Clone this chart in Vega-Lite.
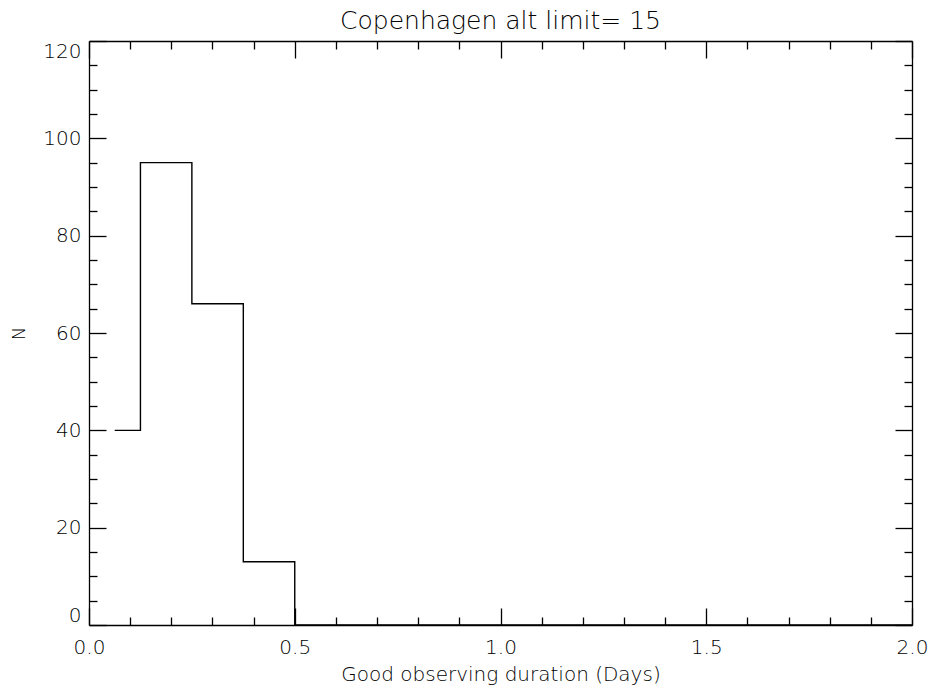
{
  "$schema": "https://vega.github.io/schema/vega-lite/v6.json",
  "autosize": {"type": "none"},
  "width": 823,
  "height": 584,
  "padding": {"left": 89, "top": 41, "right": 17, "bottom": 65},
  "background": "white",
  "title": {"text": "Copenhagen alt limit= 15", "fontSize": 25, "font": "DejaVu Sans", "fontWeight": 200, "color": "#000", "offset": 6, "anchor": "middle"},
  "config": {
    "view": {"stroke": null},
    "axis": {"domainColor": "#000", "tickColor": "#000", "labelColor": "#000", "titleColor": "#000", "labelFont": "DejaVu Sans", "titleFont": "DejaVu Sans", "labelFontWeight": 200, "titleFontWeight": 200, "labelFontSize": 20, "titleFontSize": 20, "grid": false, "domainWidth": 1.3, "tickWidth": 1.3}
  },
  "data": {"values": [
    {"d": 0.0625, "n": 40},
    {"d": 0.125, "n": 95},
    {"d": 0.25, "n": 66},
    {"d": 0.375, "n": 13},
    {"d": 0.5, "n": 0},
    {"d": 2.0, "n": 0}
  ]},
  "resolve": {"axis": {"x": "independent", "y": "independent"}},
  "layer": [
    {
      "mark": {"type": "line", "interpolate": "step-after", "color": "#000", "strokeWidth": 1.4},
      "encoding": {
        "x": {"field": "d", "type": "quantitative", "scale": {"domain": [0, 2], "nice": false, "zero": false},
              "axis": {"orient": "bottom", "values": [0, 0.5, 1, 1.5, 2], "format": ".1f", "ticks": false, "labelFlush": false, "labelPadding": 12, "title": "Good observing duration (Days)", "titlePadding": 7}},
        "y": {"field": "n", "type": "quantitative", "scale": {"domain": [0, 120], "nice": false},
              "axis": {"orient": "left", "values": [0, 20, 40, 60, 80, 100, 120], "ticks": false, "labelPadding": 8, "labelFlush": true, "title": "N", "titlePadding": 14, "titleFontSize": 18}}
      }
    },
    {
      "mark": {"type": "line", "strokeOpacity": 0},
      "encoding": {
        "x": {"field": "d", "type": "quantitative", "axis": {"orient": "bottom", "values": [0, 0.5, 1, 1.5, 2], "tickSize": -17, "labels": false, "domain": false, "title": null}},
        "y": {"field": "n", "type": "quantitative", "axis": {"orient": "left", "values": [0, 20, 40, 60, 80, 100, 120], "tickSize": -17, "labels": false, "domain": false, "title": null}}
      }
    },
    {
      "mark": {"type": "line", "strokeOpacity": 0},
      "encoding": {
        "x": {"field": "d", "type": "quantitative", "axis": {"orient": "bottom", "values": [0.1, 0.2, 0.3, 0.4, 0.6, 0.7, 0.8, 0.9, 1.1, 1.2, 1.3, 1.4, 1.6, 1.7, 1.8, 1.9], "tickSize": -8, "labels": false, "domain": false, "title": null}},
        "y": {"field": "n", "type": "quantitative", "axis": {"orient": "left", "values": [5, 10, 15, 25, 30, 35, 45, 50, 55, 65, 70, 75, 85, 90, 95, 105, 110, 115], "tickSize": -8, "labels": false, "domain": false, "title": null}}
      }
    },
    {
      "mark": {"type": "line", "strokeOpacity": 0},
      "encoding": {
        "x": {"field": "d", "type": "quantitative", "axis": {"orient": "top", "values": [0, 0.5, 1, 1.5, 2], "tickSize": -17, "labels": false, "domain": true, "title": null}},
        "y": {"field": "n", "type": "quantitative", "axis": {"orient": "right", "values": [0, 20, 40, 60, 80, 100, 120], "tickSize": -17, "labels": false, "domain": true, "title": null}}
      }
    },
    {
      "mark": {"type": "line", "strokeOpacity": 0},
      "encoding": {
        "x": {"field": "d", "type": "quantitative", "axis": {"orient": "top", "values": [0.1, 0.2, 0.3, 0.4, 0.6, 0.7, 0.8, 0.9, 1.1, 1.2, 1.3, 1.4, 1.6, 1.7, 1.8, 1.9], "tickSize": -8, "labels": false, "domain": false, "title": null}},
        "y": {"field": "n", "type": "quantitative", "axis": {"orient": "right", "values": [5, 10, 15, 25, 30, 35, 45, 50, 55, 65, 70, 75, 85, 90, 95, 105, 110, 115], "tickSize": -8, "labels": false, "domain": false, "title": null}}
      }
    }
  ]
}
